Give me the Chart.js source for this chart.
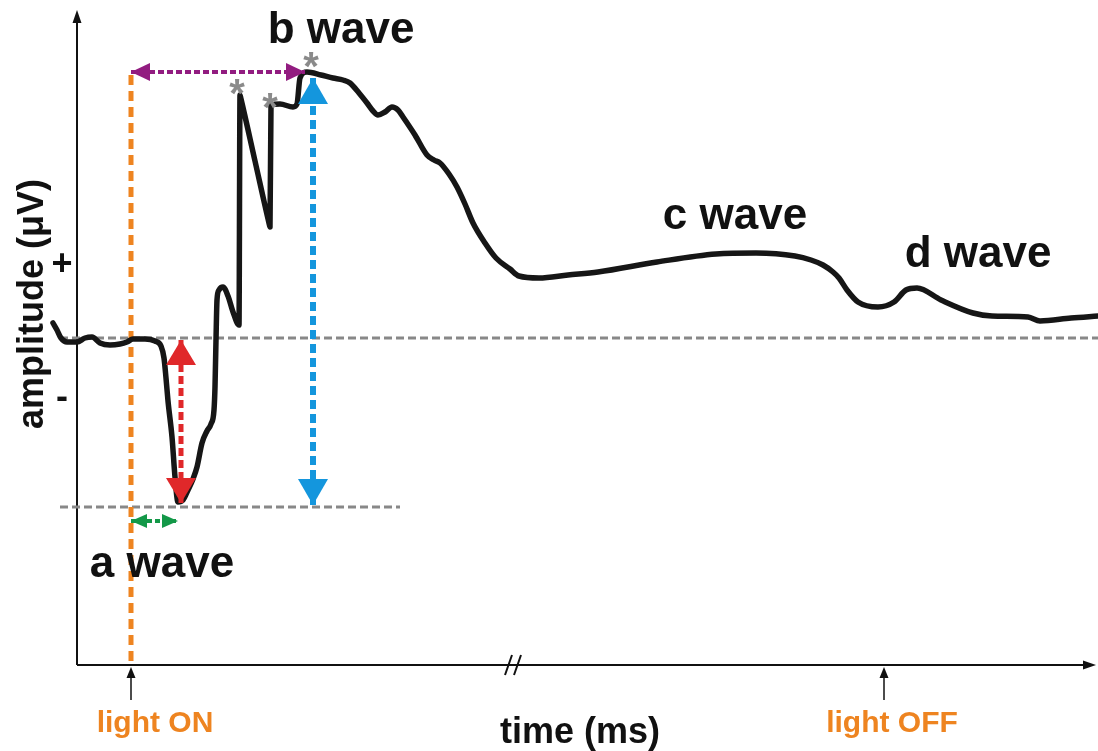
<!DOCTYPE html>
<html>
<head>
<meta charset="utf-8">
<script src="https://cdn.jsdelivr.net/npm/chart.js@4/dist/chart.umd.min.js"></script>
<style>
  html, body { margin: 0; padding: 0; background: #fff; }
  #erg { display: block; }
</style>
</head>
<body>
<canvas id="erg" width="1098" height="751"></canvas>
<script>
// ── ERG trace (time in ms from light ON, amplitude in µV from baseline)
const ergTime = [-78, -74, -70, -64, -54, -46, -39, -31, -21, -11, -4, 2, 14, 24, 30, 33, 35, 37, 41, 44, 47,
  52, 57, 62, 66, 71, 76, 80, 83, 84, 85, 86, 88, 92, 97, 102, 108, 109, 110, 124, 138, 139, 140, 149, 162, 166, 169, 176,
  190, 202, 212, 219, 228, 236, 242, 247, 254, 261, 267, 272, 284, 296, 303, 309, 318, 326, 334, 342, 354,
  365, 379, 388, 408, 437, 467, 526, 585, 625, 664, 680, 692, 702, 708, 716, 727, 747, 763, 775, 786, 810,
  842, 861, 897, 909, 940, 967];
const ergAmp = [15, 8, 0, -4, -4, 0, 1, -5, -7, -6, -4, -1, -1, -3, -8, -20, -40, -63, -99, -139, -164,
  -162, -152, -141, -129, -105, -93, -86, -72, -49, -2, 38, 48, 51, 42, 26, 13, 243, 239, 177, 115, 111, 233, 234, 231, 234, 260, 266,
  263, 260, 258, 255, 245, 235, 227, 223, 226, 231, 228, 221, 203, 183, 178, 175, 164, 151, 134, 115, 95,
  80, 69, 62, 60, 63, 66, 76, 84, 85, 82, 78, 73, 66, 60, 48, 36, 31, 36, 48, 50, 38,
  25, 22, 21, 17, 20, 22];

// stimulus timing
const lightOnTime = 0;
const lightOffTime = 753;
const axisBreakTime = 375;

// reference levels
const baselineAmp = 0;
const troughLevelAmp = -169;

// peaks marked with an asterisk
const peakTime = [106, 139, 180];
const peakAmp = [254, 240, 281];

// measurement arrows [from, to]
const bImplicitTime = [0, 174];   // purple, at b-wave peak level
const bImplicitAmp = 266;
const aAmpTime = 50;              // red: a-wave amplitude
const aAmpRange = [-2, -165];
const bAmpTime = 182;             // blue: b-wave amplitude
const bAmpRange = [260, -167];
const aImplicitTime = [0, 47];    // green: a-wave implicit time
const aImplicitAmp = -183;

const waveNames = ['a wave', 'b wave', 'c wave', 'd wave'];

const pts = (xs, ys) => xs.map((v, i) => ({ x: v, y: ys[i] }));
const FONT = "'Liberation Sans', Arial, sans-serif";

function drawHead(ctx, tipX, tipY, fromX, fromY, len, half, col) {
  const dx = tipX - fromX, dy = tipY - fromY;
  const d = Math.hypot(dx, dy) || 1;
  const ux = dx / d, uy = dy / d;
  const bx = tipX - ux * len, by = tipY - uy * len;
  ctx.fillStyle = col;
  ctx.beginPath();
  ctx.moveTo(tipX, tipY);
  ctx.lineTo(bx - uy * half, by + ux * half);
  ctx.lineTo(bx + uy * half, by - ux * half);
  ctx.closePath();
  ctx.fill();
}

const ergDecor = {
  id: 'ergDecor',
  beforeDatasetsDraw(chart) {
    const { ctx, scales: { x, y } } = chart;
    const X = t => x.getPixelForValue(t), Y = a => y.getPixelForValue(a);
    const ox = X(-54), oy = Y(-327);
    ctx.save();
    ctx.strokeStyle = '#111';
    ctx.lineWidth = 2;
    // axes
    ctx.beginPath();
    ctx.moveTo(ox, oy); ctx.lineTo(ox, Y(320));
    ctx.moveTo(ox, oy); ctx.lineTo(X(955), oy);
    ctx.stroke();
    drawHead(ctx, ox, Y(328), ox, oy, 13, 4.5, '#111');
    drawHead(ctx, X(965), oy, ox, oy, 13, 4.5, '#111');
    // axis break
    const bx = X(axisBreakTime);
    ctx.lineWidth = 2;
    ctx.beginPath();
    ctx.moveTo(bx - 1, oy + 10); ctx.lineTo(bx + 6, oy - 10);
    ctx.moveTo(bx + 8, oy + 10); ctx.lineTo(bx + 15, oy - 10);
    ctx.stroke();
    // light ON / OFF markers
    ctx.lineWidth = 1.5;
    [lightOnTime, lightOffTime].forEach(t => {
      ctx.beginPath();
      ctx.moveTo(X(t), oy + 35); ctx.lineTo(X(t), oy + 10);
      ctx.stroke();
      drawHead(ctx, X(t), oy + 2, X(t), oy + 35, 11, 4.5, '#111');
    });
    ctx.restore();
  },
  afterDatasetsDraw(chart) {
    const { ctx, scales: { x, y } } = chart;
    const X = t => x.getPixelForValue(t), Y = a => y.getPixelForValue(a);
    ctx.save();
    // arrow heads
    chart.data.datasets.forEach((ds, i) => {
      if (!ds.head) return;
      const el = chart.getDatasetMeta(i).data;
      const a = el[0], b = el[el.length - 1];
      drawHead(ctx, a.x, a.y, b.x, b.y, ds.head[0], ds.head[1], ds.borderColor);
      drawHead(ctx, b.x, b.y, a.x, a.y, ds.head[0], ds.head[1], ds.borderColor);
    });
    // asterisks
    ctx.fillStyle = '#8a8a8a';
    ctx.font = 'bold 40px ' + FONT;
    ctx.textAlign = 'center';
    ctx.textBaseline = 'alphabetic';
    peakTime.forEach((t, i) => ctx.fillText('*', X(t), Y(peakAmp[i]) + 23));
    // wave names
    ctx.fillStyle = '#111';
    ctx.font = 'bold 44px ' + FONT;
    const spots = [[31, -239], [210, 295], [604, 109], [847, 71]];
    waveNames.forEach((n, i) => ctx.fillText(n, X(spots[i][0]), Y(spots[i][1])));
    // axis titles
    ctx.font = 'bold 36px ' + FONT;
    ctx.fillText('time (ms)', X(449), Y(-405));
    ctx.fillText('+', X(-69), Y(63));
    ctx.fillText('-', X(-69), Y(-70));
    ctx.save();
    ctx.translate(X(-88), Y(34));
    ctx.rotate(-Math.PI / 2);
    ctx.font = 'bold 36px ' + FONT;
    ctx.fillText('amplitude (\u03BCV)', 0, 0);
    ctx.restore();
    ctx.fillStyle = '#EE8420';
    ctx.font = 'bold 30px ' + FONT;
    ctx.fillText('light ON', X(lightOnTime + 24), Y(-394));
    ctx.fillText('light OFF', X(lightOffTime + 8), Y(-394));
    ctx.restore();
  }
};

new Chart(document.getElementById('erg'), {
  type: 'line',
  data: {
    datasets: [
      { label: 'a amp', data: [{ x: aAmpTime, y: aAmpRange[0] }, { x: aAmpTime, y: aAmpRange[1] }],
        borderColor: '#E0282A', borderWidth: 5, borderDash: [8, 4], head: [25, 15], order: 1 },
      { label: 'b amp', data: [{ x: bAmpTime, y: bAmpRange[0] }, { x: bAmpTime, y: bAmpRange[1] }],
        borderColor: '#1496DD', borderWidth: 6, borderDash: [9, 5], head: [26, 15], order: 1 },
      { label: 'b implicit', data: pts(bImplicitTime, [bImplicitAmp, bImplicitAmp]),
        borderColor: '#921C80', borderWidth: 4, borderDash: [6, 3], head: [19, 9], order: 1 },
      { label: 'a implicit', data: pts(aImplicitTime, [aImplicitAmp, aImplicitAmp]),
        borderColor: '#139848', borderWidth: 4, borderDash: [5, 3], head: [16, 7], order: 1 },
      { label: 'ERG', data: pts(ergTime, ergAmp), borderColor: '#161616', borderWidth: 5.5,
        cubicInterpolationMode: 'monotone', borderJoinStyle: 'round', borderCapStyle: 'round', order: 2 },
      { label: 'light on', data: [{ x: lightOnTime, y: bImplicitAmp - 3 }, { x: lightOnTime, y: -327 }],
        borderColor: '#EE8420', borderWidth: 5, borderDash: [10, 6], order: 3 },
      { label: 'baseline', data: [{ x: -71, y: baselineAmp }, { x: 967, y: baselineAmp }],
        borderColor: '#888', borderWidth: 3, borderDash: [8, 4], order: 4 },
      { label: 'trough', data: [{ x: -71, y: troughLevelAmp }, { x: 269, y: troughLevelAmp }],
        borderColor: '#888', borderWidth: 3, borderDash: [8, 4], order: 4 },
    ],
  },
  options: {
    responsive: false,
    animation: false,
    layout: { padding: 0 },
    elements: { point: { radius: 0 }, line: { tension: 0, borderCapStyle: 'butt' } },
    scales: {
      x: { type: 'linear', display: false, min: -131, max: 967 },
      y: { type: 'linear', display: false, min: -413, max: 338 },
    },
    plugins: { legend: { display: false }, tooltip: { enabled: false } },
  },
  plugins: [ergDecor],
});
</script>
</body>
</html>
